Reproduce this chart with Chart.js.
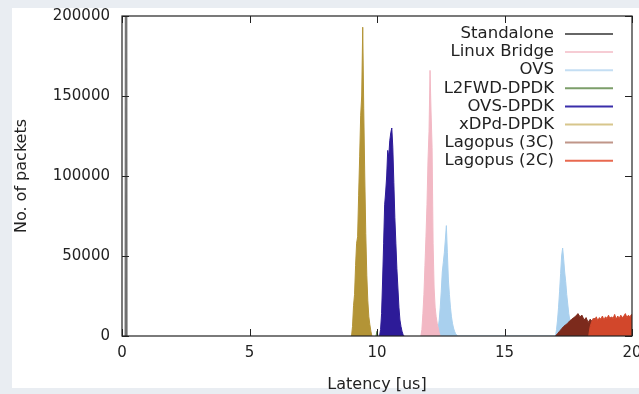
<!DOCTYPE html>
<html>
<head>
<meta charset="utf-8">
<script src="https://cdn.jsdelivr.net/npm/chart.js@4.4.0/dist/chart.umd.min.js"></script>
<style>
  body { margin: 0; background: #e9edf2; }
  #panel { position: absolute; left: 12px; top: 8px; width: 627px; height: 380px; background: #fff; }
  #histo { position: absolute; left: 0; top: 0; }
</style>
</head>
<body>
<div id="panel"></div>
<canvas id="histo" width="639" height="394"></canvas>
<script>
// latency histograms, counts per bin (bin start in us, bin width in us)
const seriesNames = ['Standalone', 'Linux Bridge', 'OVS', 'L2FWD-DPDK', 'OVS-DPDK', 'xDPd-DPDK', 'Lagopus (3C)', 'Lagopus (2C)'];
const xTicks = [0, 5, 10, 15, 20];
const yTicks = [0, 50000, 100000, 150000, 200000];

const standaloneStart = 0.12, standaloneBin = 0.04;
const standaloneCounts = [0, 900000, 0];

const bridgeStart = 11.72, bridgeBin = 0.04;
const bridgeCounts = [0, 4000, 14000, 26000, 44000, 62000, 82000, 110000, 128000, 166000,
  140000, 118000, 58000, 30000, 18000, 12000, 8000, 5000, 2000, 0];

const ovsStart1 = 12.32, ovsStart2 = 17.0, ovsBin = 0.04;
const ovsCounts1 = [0, 2000, 5000, 10000, 18000, 28000, 40000, 46000, 52000, 60000, 69000,
  52000, 35000, 26000, 18000, 12000, 8000, 5000, 3000, 1500, 800, 0];
const ovsCounts2 = [0, 4000, 10000, 18000, 28000, 39000, 50000, 55000, 48000, 40000, 34000,
  26000, 20000, 14000, 10000, 6000, 3000, 1000, 0];

const l2fwdStart = 9.96, l2fwdBin = 0.04;
const l2fwdCounts = [0, 3000, 0];

const ovsDpdkStart = 10.10, ovsDpdkBin = 0.04;
const ovsDpdkCounts = [0, 4000, 14000, 35000, 58000, 82000, 90000, 100000, 116000, 112000,
  122000, 127000, 130000, 118000, 96000, 74000, 58000, 42000, 30000, 18000, 10000, 6000, 3000, 1000, 0];

const xdpdStart = 9.00, xdpdBin = 0.04;
const xdpdCounts = [0, 6000, 19000, 26000, 44000, 58000, 62000, 88000, 112000, 138000, 150000,
  193000, 142000, 100000, 64000, 38000, 22000, 12000, 7000, 3000, 0];

const lag3Start = 17.0, lag3Bin = 0.08;
const lag3Counts = [0, 1500, 3000, 4500, 6000, 7000, 8000, 9500, 10500, 11500, 12500, 14000,
  12000, 13000, 10000, 11500, 8500, 10500, 9000, 11000, 8000, 10000, 9500, 11000, 8500, 10500,
  9000, 11500, 8000, 10000, 9000, 11000, 8500, 10500, 9500, 11000, 9000, 10000, 10000];

const lag2Start = 18.30, lag2Bin = 0.06;
const lag2Counts = [0, 6000, 9000, 11000, 10000, 12000, 9500, 11500, 10500, 12500, 10000, 12000,
  11000, 13000, 10500, 12000, 11000, 13500, 10500, 12500, 11000, 13000, 11500, 12500, 14000,
  11500, 13000, 12000, 13500, 12000];

const fillColors = ['#6e6e6e', '#f2b8c4', '#a9d0ee', '#5f8c4a', '#2d1b98', '#b39436', '#7c2a1c', '#d2472b'];
const legendColors = ['#666666', '#f6ccd4', '#c4def3', '#7c9e6a', '#3a2eaa', '#d7c68c', '#c09689', '#e8694f'];
// lower = drawn later (on top)
const drawOrder = [0, 0, 0, 0, 0, 0, -1, -2];

function toPoints(start, width, counts) {
  return counts.map((c, i) => ({ x: +(start + i * width).toFixed(3), y: c }));
}

const seriesPoints = [
  toPoints(standaloneStart, standaloneBin, standaloneCounts),
  toPoints(bridgeStart, bridgeBin, bridgeCounts),
  toPoints(ovsStart1, ovsBin, ovsCounts1).concat(toPoints(ovsStart2, ovsBin, ovsCounts2)),
  toPoints(l2fwdStart, l2fwdBin, l2fwdCounts),
  toPoints(ovsDpdkStart, ovsDpdkBin, ovsDpdkCounts),
  toPoints(xdpdStart, xdpdBin, xdpdCounts),
  toPoints(lag3Start, lag3Bin, lag3Counts),
  toPoints(lag2Start, lag2Bin, lag2Counts)
];

const textColor = '#222';

// gnuplot style box with inward ticks, plus legend on the right
const framePlugin = {
  id: 'frame',
  afterDatasetsDraw(chart) {
    const { ctx, chartArea: a, scales } = chart;
    ctx.save();
    ctx.strokeStyle = '#222';
    ctx.lineWidth = 1.2;
    ctx.strokeRect(a.left, a.top, a.right - a.left, a.bottom - a.top);
    ctx.lineWidth = 1;
    ctx.beginPath();
    xTicks.forEach(v => {
      const px = Math.round(scales.x.getPixelForValue(v)) + 0.5;
      ctx.moveTo(px, a.bottom); ctx.lineTo(px, a.bottom - 7);
      ctx.moveTo(px, a.top); ctx.lineTo(px, a.top + 7);
    });
    yTicks.forEach(v => {
      const py = Math.round(scales.y.getPixelForValue(v)) + 0.5;
      ctx.moveTo(a.left, py); ctx.lineTo(a.left + 7, py);
      ctx.moveTo(a.right, py); ctx.lineTo(a.right - 7, py);
    });
    ctx.stroke();
    ctx.restore();
  },
  afterDraw(chart) {
    const ctx = chart.ctx;
    ctx.save();
    ctx.font = '16.5px "DejaVu Sans"';
    ctx.textAlign = 'right';
    ctx.textBaseline = 'middle';
    seriesNames.forEach((name, i) => {
      const y = 34 + i * 18.1;
      ctx.fillStyle = textColor;
      ctx.fillText(name, 554, y);
      ctx.strokeStyle = legendColors[i];
      ctx.lineWidth = 2;
      ctx.beginPath();
      ctx.moveTo(565, y); ctx.lineTo(613, y);
      ctx.stroke();
    });
    ctx.restore();
  }
};

new Chart(document.getElementById('histo'), {
  type: 'line',
  data: {
    datasets: seriesNames.map((name, i) => ({
      label: name,
      data: seriesPoints[i],
      borderColor: fillColors[i],
      backgroundColor: fillColors[i],
      borderWidth: 1,
      fill: 'origin',
      pointRadius: 0,
      tension: 0,
      order: drawOrder[i]
    }))
  },
  options: {
    responsive: false,
    animation: false,
    layout: { autoPadding: false, padding: { left: 0, top: 16, right: 7, bottom: 0 } },
    plugins: { legend: { display: false }, tooltip: { enabled: false } },
    scales: {
      x: {
        type: 'linear',
        min: 0, max: 20,
        afterFit: s => { s.height = 58; s.paddingLeft = 0; s.paddingRight = 0; },
        afterBuildTicks: s => { s.ticks = xTicks.map(v => ({ value: v })); },
        grid: { display: false, drawTicks: false },
        border: { display: false },
        ticks: { color: textColor, padding: 8, font: { family: 'DejaVu Sans', size: 15 } },
        title: { display: true, text: 'Latency [us]', color: textColor, padding: { top: 0, bottom: 0 },
          font: { family: 'DejaVu Sans', size: 16 } }
      },
      y: {
        min: 0, max: 200000,
        afterFit: s => { s.width = 122; s.paddingTop = 0; s.paddingBottom = 0; },
        afterBuildTicks: s => { s.ticks = yTicks.map(v => ({ value: v })); },
        grid: { display: false, drawTicks: false },
        border: { display: false },
        ticks: { color: textColor, padding: 12, font: { family: 'DejaVu Sans', size: 15 },
          callback: v => String(v) },
        title: { display: true, text: 'No. of packets', color: textColor, padding: { top: 12, bottom: 0 },
          font: { family: 'DejaVu Sans', size: 16 } }
      }
    }
  },
  plugins: [framePlugin]
});
</script>
</body>
</html>
